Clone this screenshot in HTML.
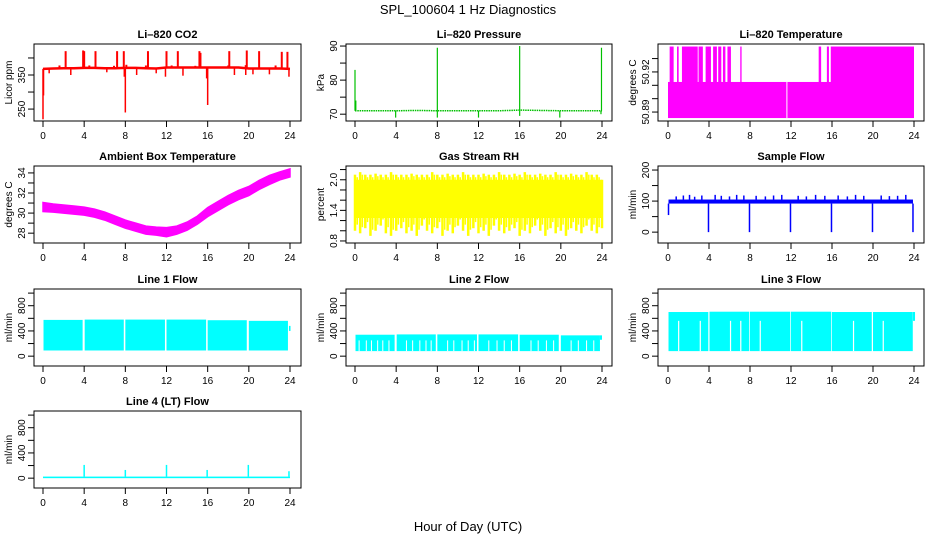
<!DOCTYPE html>
<html><head><meta charset="utf-8"><style>
body{margin:0;background:#fff}
svg{display:block;font-family:"Liberation Sans",sans-serif}
</style></head><body>
<svg id="c" width="936" height="540" xmlns="http://www.w3.org/2000/svg">
<text x="468" y="14" text-anchor="middle" font-size="13">SPL_100604  1 Hz Diagnostics</text>
<text x="468" y="531" text-anchor="middle" font-size="13">Hour of Day (UTC)</text>
</svg>
<script>
// ---------- data ----------
const xTicks = [0,4,8,12,16,20,24];
const co2Hours = [0,1,2,3,4,5,6,7,8,9,10,11,12,13,14,15,16,17,18,19,20,21,22,23,24];
const co2Base = [368,369,370,370,371,371,370,370,371,371,370,369,372,372,372,372,372,372,372,372,369,369,369,369,368];
const co2SpikeHours = [2.2,3.9,4.0,5.1,7.2,7.85,10.2,12.0,13.1,15.2,15.3,18.1,19.8,21.0,23.2,23.75];
const co2SpikeVals = [420,422,420,420,420,420,420,420,420,420,415,420,422,420,418,418];
const co2DipHours = [0.0,0.05,0.6,2.7,6.2,7.9,8.0,9.1,11.0,11.9,13.6,15.9,16.0,18.6,19.7,20.4,22.0,23.9];
const co2DipVals = [220,290,355,350,358,345,240,350,355,345,348,340,262,350,350,352,352,345];
const co2BumpHours = [1.6,4.5,6.9,8.1,10.0,12.5,14.8,18.0,19.7,22.6];
const co2BumpVals = [378,378,377,380,378,378,377,378,379,378];

const presHours = [0,2,4,6,8,10,12,14,16,18,20,22,24];
const presBase = [71.0,71.0,71.0,71.1,71.0,71.0,71.0,71.0,71.2,71.1,71.0,71.0,71.0];
const presSpikeHours = [0.0,0.08,8.0,16.0,23.95];
const presSpikeVals = [83,74,89.5,90,89.5];
const presDipHours = [3.95,8.0,12.0,16.0,19.9,23.9];
const presDipVals = [69,69,69,69.5,69,70];

const tempLow = 50.9125, tempHigh = 50.939, tempFloor = 50.8855;
const tempHighStart = [0.16,0.88,1.36,2.98,3.67,4.4,4.9,5.36,5.8,7.05,14.7,15.5,15.88];
const tempHighEnd =   [0.55,1.04,2.9,3.4,4.19,4.77,5.2,5.6,6.14,7.18,14.94,15.7,24.0];
const tempGapHours = [11.6];

const ambHours = [0,1,2,3,4,5,6,7,8,9,10,11,12,13,14,15,16,17,18,19,20,21,22,23,24];
const ambMid = [30.6,30.5,30.4,30.3,30.2,30.0,29.7,29.3,28.9,28.6,28.3,28.2,28.1,28.3,28.7,29.3,30.1,30.7,31.3,31.8,32.2,32.8,33.3,33.7,34.0];
const ambHalf = [0.45,0.4,0.4,0.4,0.4,0.4,0.4,0.4,0.4,0.4,0.4,0.4,0.45,0.4,0.4,0.4,0.45,0.45,0.45,0.45,0.45,0.45,0.45,0.4,0.4];

const rhLo = [1.0,0.95,1.05,0.9,1.0,1.1,0.95,0.9,1.0,1.05,0.95,1.0,0.9,1.1,1.0,0.95,1.05,0.9,1.0,0.95,1.1,1.0,0.9,1.05,0.95,1.0,0.9,1.1,1.0,0.95,1.0,1.05,0.9,1.0,0.95,1.1,1.0,0.9,1.05,0.95,1.0,0.9,1.05,1.0,0.95,1.1,1.0,0.95,1.05];
const rhHi = [2.1,2.15,2.1,2.1,2.12,2.1,2.1,2.15,2.1,2.1,2.1,2.12,2.1,2.1,2.1,2.15,2.1,2.1,2.12,2.1,2.1,2.15,2.1,2.1,2.1,2.12,2.1,2.1,2.15,2.1,2.1,2.12,2.1,2.15,2.1,2.1,2.12,2.1,2.1,2.15,2.1,2.1,2.12,2.1,2.1,2.15,2.1,2.1,2.0];
const rhCore = [1.25,2.0];

const sfBand = [92,105];
const sfSpikeHours = [0.8,1.5,2.1,2.6,3.3,4.6,5.2,6.0,6.7,7.4,8.6,9.5,10.3,11.1,12.7,13.5,14.4,15.3,16.6,17.5,18.3,19.1,20.8,21.6,22.4,23.2];
const sfSpikeVals = [115,118,120,114,118,120,117,115,120,118,117,115,118,120,117,115,120,117,118,115,120,117,118,116,117,120];
const sfDropHours = [0.05,3.95,7.95,11.95,15.95,19.95,23.9];
const sfDropVals = [55,0,0,0,0,0,0];

const segStart = [0.05,4.05,8.0,12.0,16.0,20.0];
const segEnd = [3.85,7.85,11.85,15.85,19.8,23.8];
const l1Tops = [575,580,580,580,570,560];
const l1Bottom = 90;
const l2Tops = [340,345,345,345,340,330];
const l2Bottom = 80;
const l2GapHours = [0.4,1.1,1.6,2.2,2.7,3.3,5.0,5.6,6.3,6.9,7.4,9.0,9.6,10.4,11.0,11.6,13.0,13.8,14.5,15.2,17.1,17.8,18.6,19.3,21.0,21.7,22.5,23.2];
const l3Tops = [700,705,705,705,700,700];
const l3Bottom = 80;
const l3GapHours = [1.04,3.15,6.1,7.1,9.0,13.05,18.1,21.0];
const l4Base = [0,25];
const l4SpikeHours = [4.0,8.0,12.0,15.95,19.95,23.9];
const l4SpikeVals = [210,130,210,130,210,110];

// ---------- layout ----------
const svg = document.getElementById('c');
const NS = 'http://www.w3.org/2000/svg';
const colX = [[34,301,43,290],[346,612,355,602],[658,924,668,914]];
const rowY = [44,166,289,411];
const PH = 77;

function mk(tag, attrs, parent){
  const e = document.createElementNS(NS, tag);
  for (const k in attrs) e.setAttribute(k, attrs[k]);
  (parent||svg).appendChild(e);
  return e;
}

function panel(name, title, col, row, ymin, ymax, ticks, labels, ylab){
  const [bl, br, x0, x24] = colX[col];
  const bt = rowY[row], bb = bt + PH;
  const g = mk('g', {});
  
  
  const x = h => x0 + (x24 - x0) * h / 24;
  const y = v => bb - (v - ymin) / (ymax - ymin) * PH;
  const plot = mk('g', {}, g);
  
  
  const t = mk('text', {x:(bl+br)/2, y:bt-6, 'text-anchor':'middle','font-size':11,'font-weight':'bold'}, g);
  t.textContent = title;
  
  
  // x axis
  const xa = mk('g', {}, g);
  
  
  mk('line', {x1:x(0), x2:x(24), y1:bb, y2:bb, stroke:'#000'}, xa);
  xTicks.forEach(h => {
    mk('line', {x1:x(h), x2:x(h), y1:bb, y2:bb+6, stroke:'#000'}, xa);
    const tl = mk('text', {x:x(h), y:bb+18, 'text-anchor':'middle','font-size':10}, xa);
    tl.textContent = h;
    
    
  });
  // y axis
  const ya = mk('g', {}, g);
  
  
  mk('line', {x1:bl, x2:bl, y1:y(ticks[0]), y2:y(ticks[ticks.length-1]), stroke:'#000'}, ya);
  ticks.forEach((v,i) => {
    mk('line', {x1:bl-6, x2:bl, y1:y(v), y2:y(v), stroke:'#000'}, ya);
    if (labels[i] !== '') {
      const tl = mk('text', {x:0, y:0, 'text-anchor':'middle','font-size':10, transform:`translate(${bl-9},${y(v)}) rotate(-90)`}, ya);
      tl.textContent = labels[i];
      
      
    }
  });
  const yl = mk('text', {x:0, y:0, 'text-anchor':'middle','font-size':10, transform:`translate(${bl-22},${(bt+bb)/2}) rotate(-90)`}, g);
  yl.textContent = ylab;
  
  
  mk('rect', {x:bl, y:bt, width:br-bl, height:PH, fill:'none', stroke:'#000'}, g);
  return {x, y, g:plot};
}

function vline(p, h, v0, v1, color, w){
  return mk('line', {x1:p.x(h), x2:p.x(h), y1:p.y(v0), y2:p.y(v1), stroke:color, 'stroke-width':w||1}, p.g);
}
function rectH(p, h0, h1, v0, v1, color){
  return mk('rect', {x:p.x(h0), y:p.y(v1), width:p.x(h1)-p.x(h0), height:p.y(v0)-p.y(v1), fill:color}, p.g);
}
function pathLine(p, hs, vs, color, w, dash){
  const d = hs.map((h,i)=>(i?'L':'M')+p.x(h)+','+p.y(vs[i])).join('');
  const a = {d, fill:'none', stroke:color, 'stroke-width':w};
  if (dash) a['stroke-dasharray'] = dash;
  return mk('path', a, p.g);
}

// ---------- CO2 ----------
(function(){
  const p = panel('co2','Li–820 CO2',0,0,215,441,[250,300,350,400],['250','','350',''],'Licor ppm');
  const R = '#ff0000';
  pathLine(p, co2Hours, co2Base, R, 2.5);
  co2SpikeHours.forEach((h,i)=>vline(p,h,co2Base[Math.round(h)],co2SpikeVals[i],R,2));
  co2DipHours.forEach((h,i)=>vline(p,h,co2Base[Math.round(h)],co2DipVals[i],R,1.5));
  co2BumpHours.forEach((h,i)=>vline(p,h,co2Base[Math.round(h)],co2BumpVals[i],R,2));
})();

// ---------- Pressure ----------
(function(){
  const p = panel('pressure','Li–820 Pressure',1,0,68,90.6,[70,75,80,85,90],['70','','80','','90'],'kPa');
  const G = '#00c000';
  pathLine(p, presHours, presBase, G, 1.5, '1.5,0.8');
  presSpikeHours.forEach((h,i)=>vline(p,h,71,presSpikeVals[i],G,1.2));
  presDipHours.forEach((h,i)=>vline(p,h,71,presDipVals[i],G,1.2));
})();

// ---------- Li-820 Temperature ----------
(function(){
  const p = panel('li820-temp','Li–820 Temperature',2,0,50.8833,50.9409,[50.89,50.90,50.91,50.92,50.93],['50.89','','','50.92',''],'degrees C');
  const M = '#ff00ff';
  rectH(p, 0, 24, tempFloor, tempLow, M);
  tempHighStart.forEach((s,i)=>rectH(p, s, tempHighEnd[i], tempLow-0.001, tempHigh, M));
  tempGapHours.forEach(h=>vline(p,h,tempFloor,tempLow,'#fff',1));
})();

// ---------- Ambient ----------
(function(){
  const p = panel('ambient-temp','Ambient Box Temperature',0,1,27.02,34.69,[28,29,30,31,32,33,34],['28','','30','','32','','34'],'degrees C');
  const up = ambHours.map((h,i)=>p.x(h)+','+p.y(ambMid[i]+ambHalf[i]));
  const dn = ambHours.map((h,i)=>p.x(h)+','+p.y(ambMid[i]-ambHalf[i])).reverse();
  mk('polygon', {points:up.concat(dn).join(' '), fill:'#ff00ff', stroke:'#ff00ff', 'stroke-width':1.5}, p.g);
})();

// ---------- RH ----------
(function(){
  const p = panel('rh','Gas Stream RH',1,1,0.76,2.27,[0.8,1.0,1.2,1.4,1.6,1.8,2.0,2.2],['0.8','','','1.4','','','2.0',''],'percent');
  const Y = '#ffff00';
  rectH(p, 0, 24, rhCore[0], rhCore[1], Y);
  rhLo.forEach((v,i)=>{
    const h = i*0.5;
    vline(p, h, v, rhHi[i], Y, 2.5);
    vline(p, Math.min(24,h+0.22), v+0.12, rhHi[i]-0.05, Y, 1.5);
  });
})();

// ---------- Sample flow ----------
(function(){
  const p = panel('sample-flow','Sample Flow',2,1,-35,213,[0,50,100,150,200],['0','','100','','200'],'ml/min');
  const B = '#0000ff';
  rectH(p, 0.05, 23.9, sfBand[0], sfBand[1], B);
  sfSpikeHours.forEach((h,i)=>vline(p,h,sfBand[1],sfSpikeVals[i],B,1.5));
  sfDropHours.forEach((h,i)=>vline(p,h,sfBand[0],sfDropVals[i],B,1.5));
})();

// ---------- Line flows ----------
const flowTicks = [0,200,400,600,800,1000];
const flowLabels = ['0','','400','','800',''];
(function(){
  const p = panel('line1-flow','Line 1 Flow',0,2,-156,1065,flowTicks,flowLabels,'ml/min');
  const C = '#00ffff';
  segStart.forEach((s,i)=>rectH(p, s, segEnd[i], l1Bottom, l1Tops[i], C));
  rectH(p, 23.9, 24.05, 400, 480, C);
})();
(function(){
  const p = panel('line2-flow','Line 2 Flow',1,2,-156,1065,flowTicks,flowLabels,'ml/min');
  const C = '#00ffff';
  segStart.forEach((s,i)=>rectH(p, s, segEnd[i], l2Bottom, l2Tops[i], C));
  l2GapHours.forEach(h=>vline(p,h,l2Bottom,250,'#fff',1));
  rectH(p, 23.8, 24.0, 260, 330, C);
})();
(function(){
  const p = panel('line3-flow','Line 3 Flow',2,2,-156,1065,flowTicks,flowLabels,'ml/min');
  const C = '#00ffff';
  segStart.forEach((s,i)=>rectH(p, s, segEnd[i]+0.08, l3Bottom, l3Tops[i], C));
  l3GapHours.forEach(h=>vline(p,h,l3Bottom,560,'#fff',1.2));
  rectH(p, 23.9, 24.1, 560, 700, C);
})();
(function(){
  const p = panel('line4-flow','Line 4 (LT) Flow',0,3,-156,1065,flowTicks,flowLabels,'ml/min');
  const C = '#00ffff';
  rectH(p, 0, 24, l4Base[0], l4Base[1], C);
  l4SpikeHours.forEach((h,i)=>vline(p,h,l4Base[1],l4SpikeVals[i],C,1.5));
})();
</script>
</body></html>
